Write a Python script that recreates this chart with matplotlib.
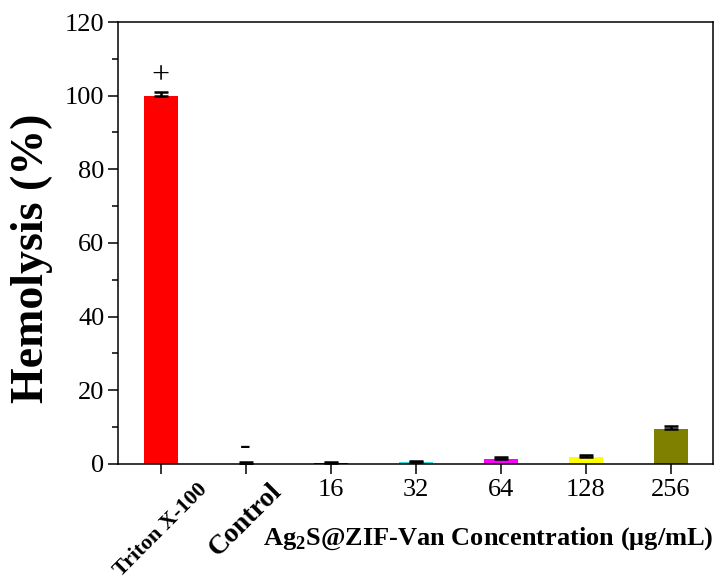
import matplotlib
matplotlib.use('Agg')
import matplotlib.pyplot as plt
from matplotlib.ticker import MultipleLocator

plt.rcParams['font.family'] = ['Liberation Serif', 'DejaVu Serif']
plt.rcParams['mathtext.fontset'] = 'custom'
plt.rcParams['mathtext.rm'] = 'Liberation Serif'
plt.rcParams['mathtext.bf'] = 'Liberation Serif:bold'

# data
groups = ['Triton X-100', 'Control', '16', '32', '64', '128', '256']
hemolysis = [99.8, 0.05, 0.15, 0.4, 1.3, 1.8, 9.4]
errors = [1.3, 0.3, 0.2, 0.3, 0.5, 0.45, 0.8]
colors = ['#FF0000', '#FFFFFF', '#0000FF', '#33E0E0', '#FF00FF', '#FFFF00', '#808000']
marks = {'Triton X-100': '+', 'Control': '-'}

fig = plt.figure(figsize=(7.16, 5.79), dpi=100)
ax = fig.add_axes([0.165, 0.199, 0.831, 0.763])

x = list(range(len(groups)))
lower = [0] * len(errors)
ax.bar(x, hemolysis, width=0.4, color=colors, edgecolor='none',
       yerr=[lower, errors], capsize=5,
       error_kw=dict(ecolor='black', elinewidth=1.8, capthick=1.8))

# +/- markers above the reference bars
for i, g in enumerate(groups):
    if g in marks:
        ypos = hemolysis[i] + errors[i] + 4.3
        ax.text(i, ypos, marks[g], ha='center', va='center', fontsize=23)

ax.set_xlim(-0.5, 6.5)
ax.set_ylim(0, 120)
ax.yaxis.set_major_locator(MultipleLocator(20))
ax.yaxis.set_minor_locator(MultipleLocator(10))

for sp in ax.spines.values():
    sp.set_linewidth(1.1)

ax.tick_params(axis='y', which='major', direction='out', length=7, width=1.1,
               labelsize=19, pad=3, right=False)
ax.tick_params(axis='y', which='minor', direction='out', length=4, width=1.1, right=False)
ax.tick_params(axis='x', direction='out', length=7, width=1.1, labelsize=19, pad=4, top=False)

ax.set_xticks(x, groups)
for lab in ax.get_xticklabels():
    t = lab.get_text()
    if t == 'Triton X-100':
        lab.set_rotation(45)
        lab.set_fontweight('bold')
        lab.set_fontsize(16)
    elif t == 'Control':
        lab.set_rotation(45)
        lab.set_fontweight('bold')
        lab.set_fontsize(20)

ax.set_ylabel('Hemolysis (%)', fontsize=33, fontweight='bold')
ax.yaxis.set_label_coords(-0.11, 0.466)

ax.text(1.0, -0.183, r'Ag$_{\mathbf{2}}$S@ZIF-Van Concentration (μg/mL)',
        transform=ax.transAxes, ha='right', va='baseline',
        fontsize=19, fontweight='bold')

fig.savefig('out.png', dpi=100)
